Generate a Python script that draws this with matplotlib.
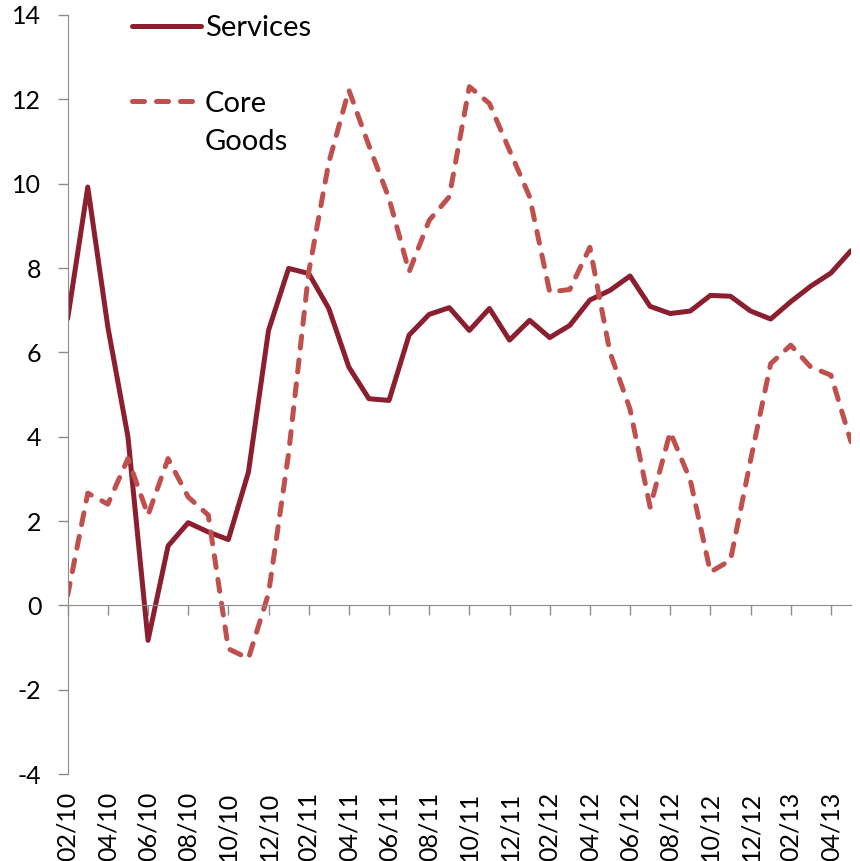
import numpy as np
import matplotlib
matplotlib.use("Agg")
import matplotlib.pyplot as plt
from matplotlib.lines import Line2D

plt.rcParams['font.family'] = ['Lato', 'DejaVu Sans']

# monthly data, 02/10 .. 05/13
months = ["02/10", "03/10", "04/10", "05/10", "06/10", "07/10", "08/10", "09/10", "10/10", "11/10", "12/10",
          "01/11", "02/11", "03/11", "04/11", "05/11", "06/11", "07/11", "08/11", "09/11", "10/11", "11/11", "12/11",
          "01/12", "02/12", "03/12", "04/12", "05/12", "06/12", "07/12", "08/12", "09/12", "10/12", "11/12", "12/12",
          "01/13", "02/13", "03/13", "04/13", "05/13"]

services = [6.8, 9.92, 6.6, 4.0, -0.83, 1.41, 1.96, 1.74, 1.56, 3.16, 6.52,
            7.99, 7.87, 7.04, 5.65, 4.90, 4.86, 6.41, 6.90, 7.06, 6.52, 7.04, 6.29,
            6.76, 6.35, 6.64, 7.24, 7.47, 7.81, 7.09, 6.92, 6.98, 7.35, 7.33, 6.98,
            6.79, 7.20, 7.57, 7.88, 8.41]

core_goods = [0.24, 2.66, 2.40, 3.48, 2.14, 3.48, 2.57, 2.14, -1.03, -1.26, 0.28,
              3.6, 7.9, 10.5, 12.22, 10.9, 9.65, 7.91, 9.13, 9.69, 12.30, 11.90, 10.79,
              9.69, 7.43, 7.49, 8.49, 6.0, 4.65, 2.33, 4.11, 2.97, 0.79, 1.07, 3.44,
              5.73, 6.17, 5.65, 5.46, 3.88]

yticks = [-4, -2, 0, 2, 4, 6, 8, 10, 12, 14]

c_serv = '#8B1F2F'
c_core = '#C0504D'
grey = '#8C8C8C'

x = np.arange(len(months))

fig = plt.figure(figsize=(8.6, 8.61), dpi=100)
ax = fig.add_axes([0.0787, 0.101, 0.9108, 0.8816])

ax.plot(x, services, color=c_serv, lw=3.6, solid_capstyle='round', solid_joinstyle='round')
ax.plot(x, core_goods, color=c_core, lw=3.6, dashes=(2.4, 2.4), dash_capstyle='round',
        dash_joinstyle='round')

ax.set_xlim(0, len(months) - 1)
ax.set_ylim(-4, 14)
ax.set_yticks(yticks)
ax.set_yticklabels([str(v) for v in yticks], fontsize=18)

for s in ['top', 'right']:
    ax.spines[s].set_visible(False)
ax.spines['left'].set_color(grey)
ax.spines['bottom'].set_color(grey)
ax.spines['bottom'].set_position(('data', 0))

tick_pos = x[::2]
ax.set_xticks(tick_pos)
ax.set_xticklabels([])
ax.tick_params(axis='both', direction='out', length=7, width=1, color=grey)
ax.tick_params(axis='y', pad=12)

# labels along the bottom edge
sec = ax.secondary_xaxis('bottom')
sec.set_xticks(tick_pos)
sec.set_xticklabels(months[::2], rotation=90, fontsize=18)
sec.tick_params(length=0, pad=13)
sec.spines['bottom'].set_visible(False)

handles = [Line2D([], [], color=c_serv, lw=3.6, solid_capstyle='round'),
           Line2D([], [], color=c_core, lw=3.6, dashes=(2.4, 2.4), dash_capstyle='round')]
leg = ax.legend(handles, ['Services', 'Core'], loc='upper left',
                bbox_to_anchor=(132 / 860, 1 - 15 / 861), bbox_transform=fig.transFigure,
                frameon=False, fontsize=21, borderpad=0, borderaxespad=0,
                handlelength=2.35, handletextpad=0.15, labelspacing=1.7)
# second line of the "Core Goods" label, just under "Core"
ax.annotate('Goods', xy=(0, 0), xycoords=leg.get_texts()[1], xytext=(0, -38),
            textcoords='offset pixels', fontsize=21, ha='left', va='bottom', zorder=10)

fig.savefig('out.png', dpi=100)
